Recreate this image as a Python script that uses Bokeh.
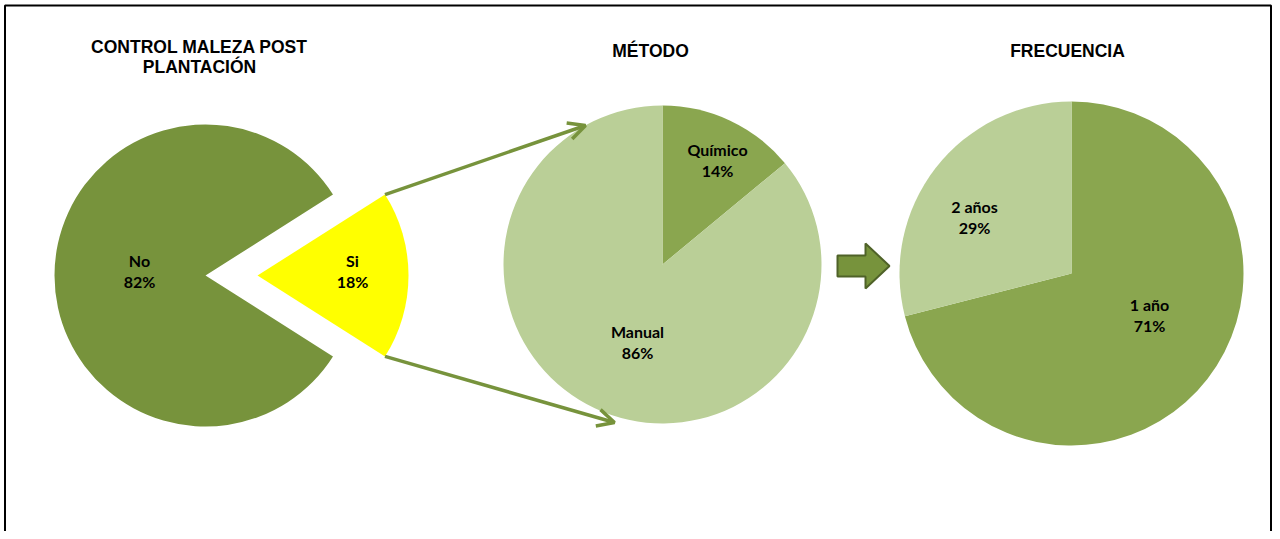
import numpy as np
from bokeh.plotting import figure
from bokeh.models import Range1d, Arrow, OpenHead
from bokeh.embed import file_html
from bokeh.resources import INLINE
from bokeh.core.properties import value

# ---------------- data ----------------
control_cats = ["No", "Si"]
control_vals = [82, 18]
metodo_cats = ["Químico", "Manual"]
metodo_vals = [14, 86]
frec_cats = ["1 año", "2 años"]
frec_vals = [71, 29]
title_control = ["CONTROL MALEZA POST", "PLANTACIÓN"]
title_metodo = ["MÉTODO"]
title_frec = ["FRECUENCIA"]

# ---------------- layout ----------------
W, H = 1272, 531


def Y(py):
    """picture y (pixels from top) -> data y"""
    return H - py


p = figure(width=W, height=H, x_range=Range1d(0, W), y_range=Range1d(0, H),
           output_backend="svg", toolbar_location=None, min_border=0)
p.axis.visible = False
p.grid.visible = False
p.outline_line_color = None
p.background_fill_color = "white"
p.border_fill_color = "white"

DARK = "#77933C"
MID = "#8AA64F"
LIGHT = "#BACF97"
YELLOW = "#FFFF00"

LABEL_FONT = value("Lato")
TITLE_FONT = value("Liberation Sans")

# frame border (left, top, right)
p.line(x=[4.5, 4.5, W - 1.5, W - 1.5], y=[Y(560), Y(5), Y(5), Y(560)],
       line_color="black", line_width=2)


def clockwise_from_top(vals):
    tot = float(sum(vals))
    starts, ends, cum = [], [], 0.0
    for v in vals:
        end = 90.0 - cum / tot * 360.0
        start = end - v / tot * 360.0
        starts.append(np.radians(start))
        ends.append(np.radians(end))
        cum += v
    return starts, ends


def pct(vals):
    tot = float(sum(vals))
    return ["%d%%" % round(v / tot * 100) for v in vals]


def labels(xs, pys, names, pcts):
    p.text(x=xs, y=[Y(py) + 10.5 for py in pys], text=names, text_font=LABEL_FONT,
           text_font_style="bold", text_font_size="16px", text_align="center",
           text_baseline="middle", text_color="black")
    p.text(x=xs, y=[Y(py) - 10.5 for py in pys], text=pcts, text_font=LABEL_FONT,
           text_font_style="bold", text_font_size="16px", text_align="center",
           text_baseline="middle", text_color="black")


def title(x, py, lines, step=19.5):
    p.text(x=[x] * len(lines), y=[Y(py) - i * step for i in range(len(lines))], text=lines,
           text_font=TITLE_FONT, text_font_style="bold", text_font_size="17.5px",
           text_align="center", text_baseline="middle", text_color="black")


# ---------------- pie 1: control ----------------
c1x, c1y, r1 = 205, Y(275), 151
explode = 52
si_frac = control_vals[1] / float(sum(control_vals))
si_start = np.radians(-si_frac * 180.0)
si_end = np.radians(si_frac * 180.0)
p.wedge(x=[c1x], y=[c1y], radius=r1, start_angle=[si_end], end_angle=[si_start + 2 * np.pi],
        fill_color=DARK, line_color=None)
p.wedge(x=[c1x + explode], y=[c1y], radius=r1, start_angle=[si_start], end_angle=[si_end],
        fill_color=YELLOW, line_color=None)
labels([139, 352], [270, 270], control_cats, pct(control_vals))
title(199, 46.5, title_control)

# ---------------- pie 2: metodo ----------------
c2x, c2y, r2 = 662, Y(264), 159
s2, e2 = clockwise_from_top(metodo_vals)
p.wedge(x=[c2x] * 2, y=[c2y] * 2, radius=r2, start_angle=s2, end_angle=e2,
        fill_color=[MID, LIGHT], line_color=None)
labels([717, 637], [159.5, 341.5], metodo_cats, pct(metodo_vals))
title(650, 50, title_metodo)

# ---------------- pie 3: frecuencia ----------------
c3x, c3y, r3 = 1071, Y(273), 172
s3, e3 = clockwise_from_top(frec_vals)
p.wedge(x=[c3x] * 2, y=[c3y] * 2, radius=r3, start_angle=s3, end_angle=e3,
        fill_color=[MID, LIGHT], line_color=None)
labels([1149, 974], [314, 216.5], frec_cats, pct(frec_vals))
title(1067, 50, title_frec)

# ---------------- connector arrows ----------------
sx = c1x + explode + r1 * np.cos(si_end)
sy_top = c1y + r1 * np.sin(si_end)
sy_bot = c1y + r1 * np.sin(si_start)
for (xe, pye), ys in (((585, 125), sy_top), ((614, 422), sy_bot)):
    p.add_layout(Arrow(end=OpenHead(size=17, line_color=DARK, line_width=3.5),
                       x_start=sx, y_start=ys, x_end=xe, y_end=Y(pye),
                       line_color=DARK, line_width=3.5))

# ---------------- block arrow ----------------
bx = [837, 865, 865, 889, 865, 865, 837]
by = [255, 255, 243, 265.5, 288, 276, 276]
p.patch(x=bx, y=[Y(v) for v in by], fill_color=DARK, line_color="#4F6228", line_width=2)

open("out.html", "w").write(file_html(p, INLINE))
